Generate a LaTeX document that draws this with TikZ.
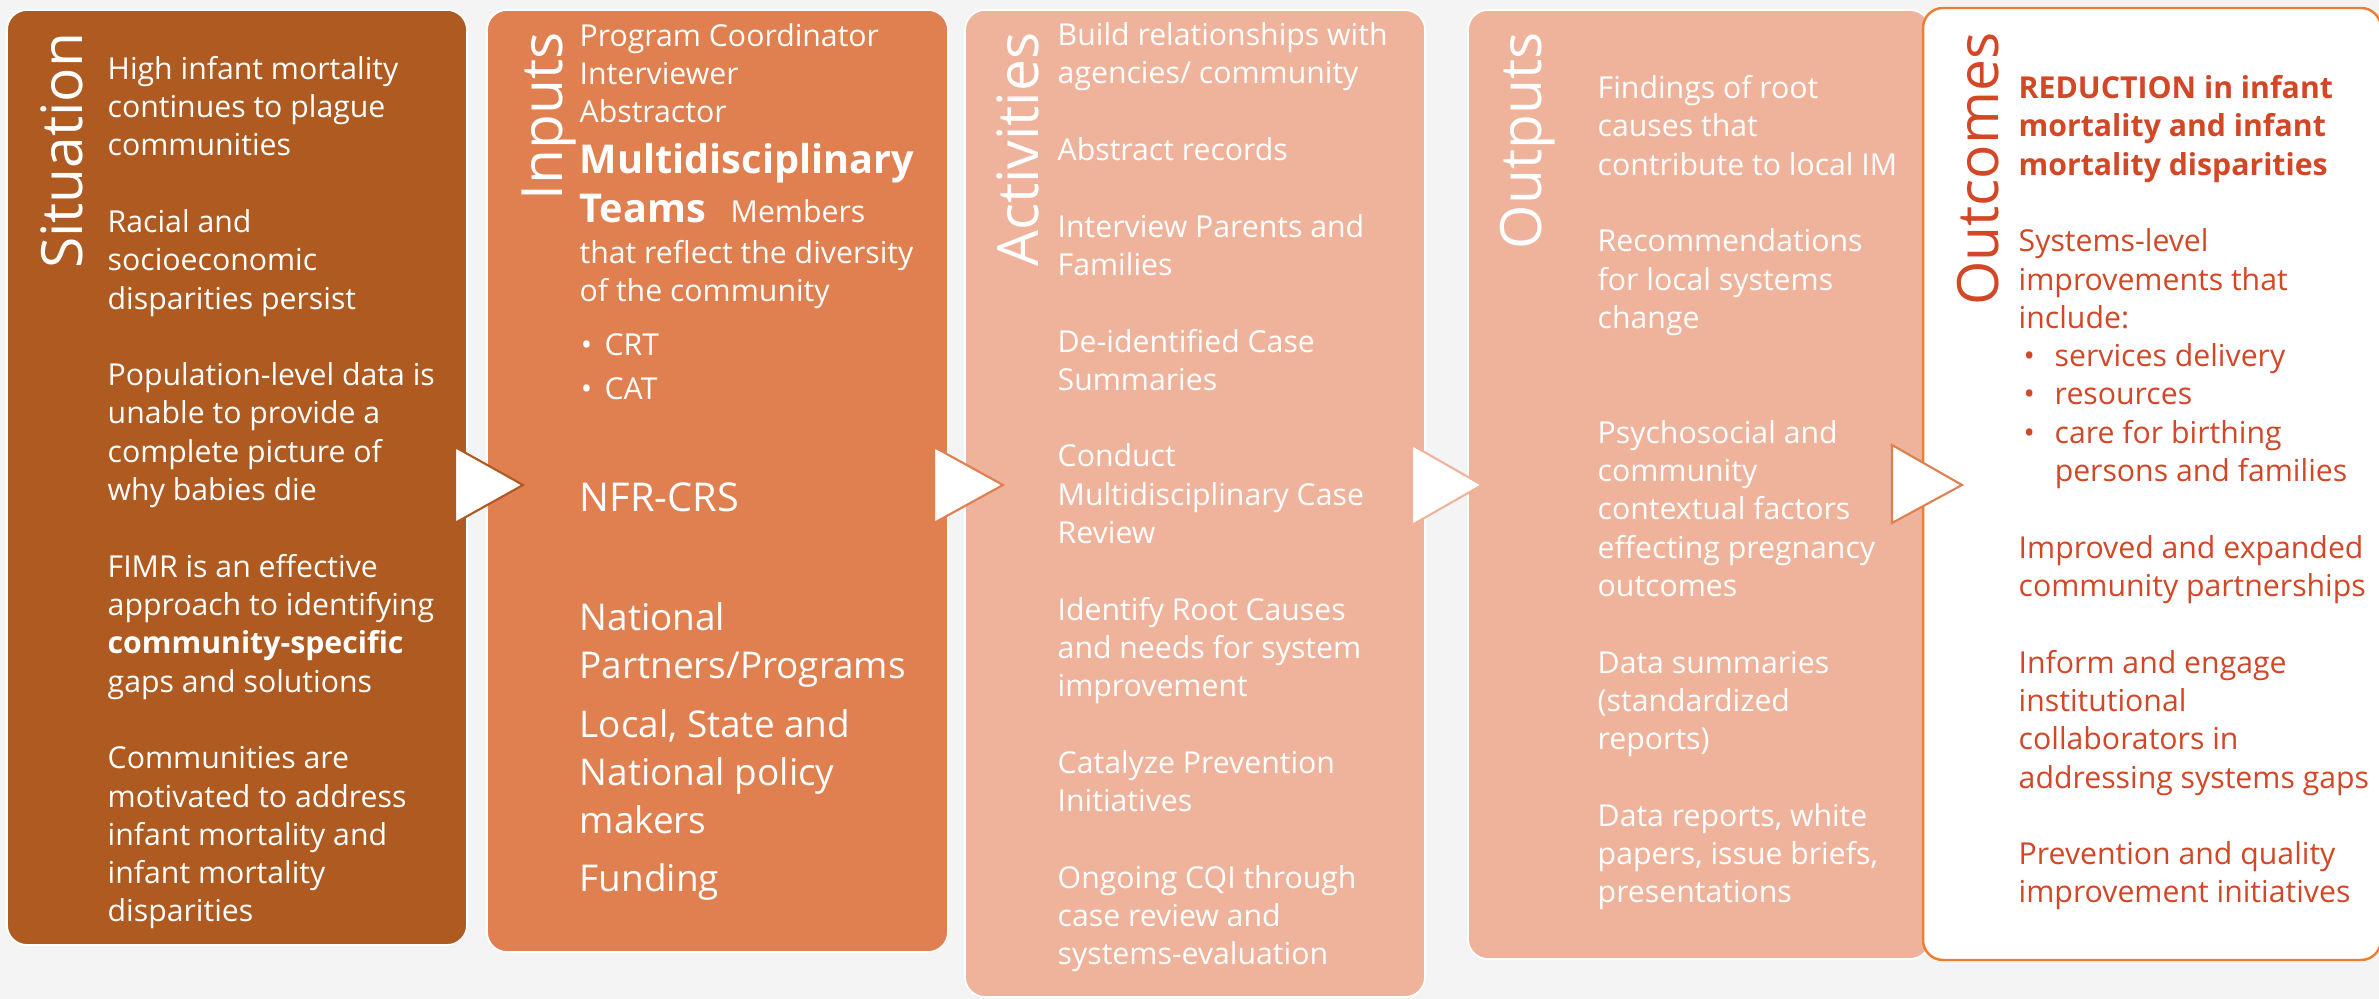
\documentclass[tikz,border=0pt]{standalone}
\usepackage{fontspec}
\setmainfont{Open Sans}

\definecolor{sitfill}{RGB}{174,90,33}
\definecolor{inpfill}{RGB}{224,127,79}
\definecolor{actfill}{RGB}{239,179,156}
\definecolor{outline}{RGB}{237,125,49}
\definecolor{outred}{RGB}{210,71,38}
\definecolor{pagebg}{RGB}{244,244,244}

\newcommand{\blankrow}{\\[10.9pt]}
\newcommand{\dotitem}[1]{\hspace*{1.4pt}\makebox[8.85pt][l]{\textbullet}#1}

\tikzset{
  panel/.style={draw=white, line width=0.5pt, rounded corners=2mm},
  pointer/.style={fill=white, line width=0.6pt, line join=miter},
  heading/.style={font=\fontsize{16.2}{19}\selectfont, text=white, rotate=90, anchor=base east, inner sep=0pt},
  bodytext/.style={font=\fontsize{8.6}{10.9}\selectfont, text=white, align=left, anchor=base west, inner sep=0pt},
}

\begin{document}
\begin{tikzpicture}[x=0.1mm, y=-0.1mm]

\fill[pagebg] (0,0) rectangle (2379,999);
\path[use as bounding box] (0,0) rectangle (2379,999);

% panels
\draw[panel, fill=sitfill] (7,10) rectangle (467,945);
\draw[panel, fill=inpfill] (487,10) rectangle (948,952);
\draw[panel, fill=actfill] (965,10) rectangle (1425,997);
\draw[panel, fill=actfill] (1468,10) rectangle (1930,959);
\draw[panel, draw=outline, line width=0.7pt, fill=white] (1923,8) rectangle (2381,960);

% headings
\node[heading] (tsit) at (82,32) {Situation};
\node[heading] (tinp) at (562,32) {Inputs};
\node[heading] (tact) at (1038,32) {Activities};
\node[heading] (tout) at (1541,32) {Outputs};
\node[heading, text=outred] (tres) at (1998,32) {Outcomes};

% situation (anchored on the last line)
\node[bodytext] (sitbody) at (107,922) {High infant mortality\\continues to plague\\communities\blankrow
  Racial and\\socioeconomic\\disparities persist\blankrow
  Population-level data is\\unable to provide a\\complete picture of\\why babies die\blankrow
  FIMR is an effective\\approach to identifying\\\textbf{community-specific}\\gaps and solutions\blankrow
  Communities are\\motivated to address\\infant mortality and\\infant mortality\\disparities};

% inputs
\node[bodytext] (inpstaff) at (579,123) {Program Coordinator\\Interviewer\\Abstractor};
\node[bodytext, font=\bfseries\fontsize{11.3}{14.2}\selectfont] (inpteam) at (579,223)
  {Multidisciplinary\\Teams\hspace{7pt}{\normalfont\fontsize{8.6}{10.9}\selectfont Members}};
\node[bodytext] (inpdesc) at (579,302) {that reflect the diversity\\of the community};
\node[bodytext, font=\fontsize{8.6}{12.8}\selectfont] (inplist) at (579,400)
  {\hspace*{0.3pt}\makebox[6.8pt][l]{\textbullet}CRT\\\hspace*{0.3pt}\makebox[6.8pt][l]{\textbullet}CAT};
\node[bodytext, font=\fontsize{11.3}{13}\selectfont] (inpnfr) at (579,512) {NFR-CRS};
\node[bodytext, font=\fontsize{10.5}{13.66}\selectfont] (inpmore) at (579,892)
  {National\\Partners/Programs\\[3.1pt]Local, State and\\National policy\\makers\\[3pt]Funding};

% activities
\node[bodytext] (actbody) at (1057,965) {Build relationships with\\agencies/ community\blankrow
  Abstract records\blankrow
  Interview Parents and\\Families\blankrow
  De-identified Case\\Summaries\blankrow
  Conduct\\Multidisciplinary Case\\Review\blankrow
  Identify Root Causes\\and needs for system\\improvement\blankrow
  Catalyze Prevention\\Initiatives\blankrow
  Ongoing CQI through\\case review and\\systems-evaluation};

% outputs
\node[bodytext] (outbody) at (1597,903) {Findings of root\\causes that\\contribute to local IM\blankrow
  Recommendations\\for local systems\\change\\[21.8pt]
  Psychosocial and\\community\\contextual factors\\effecting pregnancy\\outcomes\blankrow
  Data summaries\\(standardized\\reports)\blankrow
  Data reports, white\\papers, issue briefs,\\presentations};

% outcomes
\node[bodytext, text=outred] (resbody) at (2018,903) {\textbf{REDUCTION in infant}\\\textbf{mortality and infant}\\\textbf{mortality disparities}\blankrow
  Systems-level\\improvements that\\include:\\\dotitem{services delivery}\\\dotitem{resources}\\\dotitem{care for birthing}\\\hspace*{10.25pt}persons and families\blankrow
  Improved and expanded\\community partnerships\blankrow
  Inform and engage\\institutional\\collaborators in\\addressing systems gaps\blankrow
  Prevention and quality\\improvement initiatives};

% pointers between panels
\draw[pointer, draw=sitfill] (455,447) -- (523,485) -- (455,523) -- cycle;
\draw[pointer, draw=inpfill] (934,447) -- (1003,485) -- (934,523) -- cycle;
\draw[pointer, draw=actfill] (1412,445) -- (1482,485) -- (1412,525) -- cycle;
\draw[pointer, draw=inpfill] (1892,445) -- (1962,485) -- (1892,523) -- cycle;

\end{tikzpicture}
\end{document}
